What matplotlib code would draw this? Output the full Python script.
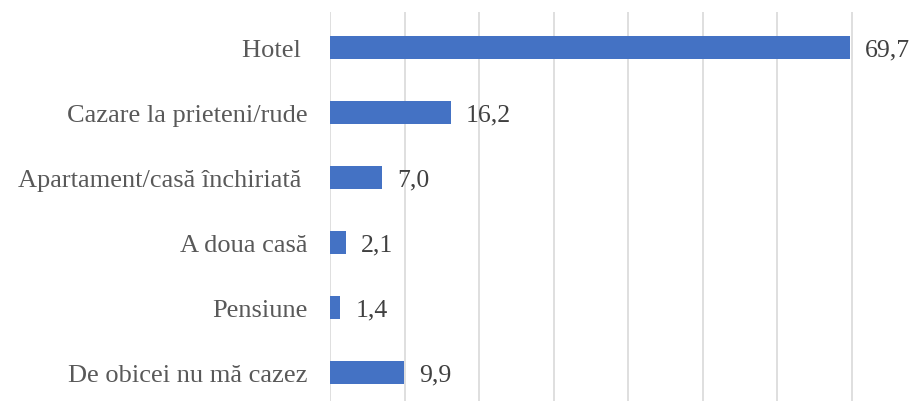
import matplotlib
matplotlib.use("Agg")
import matplotlib.pyplot as plt

categories = ["Hotel ", "Cazare la prieteni/rude", "Apartament/casă închiriată ",
              "A doua casă", "Pensiune", "De obicei nu mă cazez"]
values = [69.7, 16.2, 7.0, 2.1, 1.4, 9.9]
value_labels = ["69,7", "16,2", "7,0", "2,1", "1,4", "9,9"]

plt.rcParams["font.family"] = ["Liberation Serif", "DejaVu Serif"]

fig = plt.figure(figsize=(9.13, 4.02), dpi=100)
ax = fig.add_axes([330 / 913, -0.01, 1 - 330 / 913, 0.978])

pos = list(range(len(categories)))
ax.barh(pos, values, height=0.35, color="#4472C4", zorder=3)
ax.set_yticks(pos)
ax.set_yticklabels(categories, fontsize=19, color="#595959")
ax.set_ylim(len(categories) - 0.5, -0.55)
ax.set_xlim(0, 78.2)
ax.set_xticks(range(0, 80, 10))
ax.tick_params(axis="x", bottom=False, labelbottom=False)
ax.tick_params(axis="y", length=0, pad=16)
ax.grid(axis="x", color="#D9D9D9", linewidth=1.2, zorder=0)
for s in ax.spines.values():
    s.set_visible(False)

for p, v, lab in zip(pos, values, value_labels):
    ax.annotate(lab, (v, p), xytext=(11, -1.5), textcoords="offset points",
                va="center", ha="left", fontsize=18.5, color="#404040")

fig.savefig("out.png", dpi=100)
